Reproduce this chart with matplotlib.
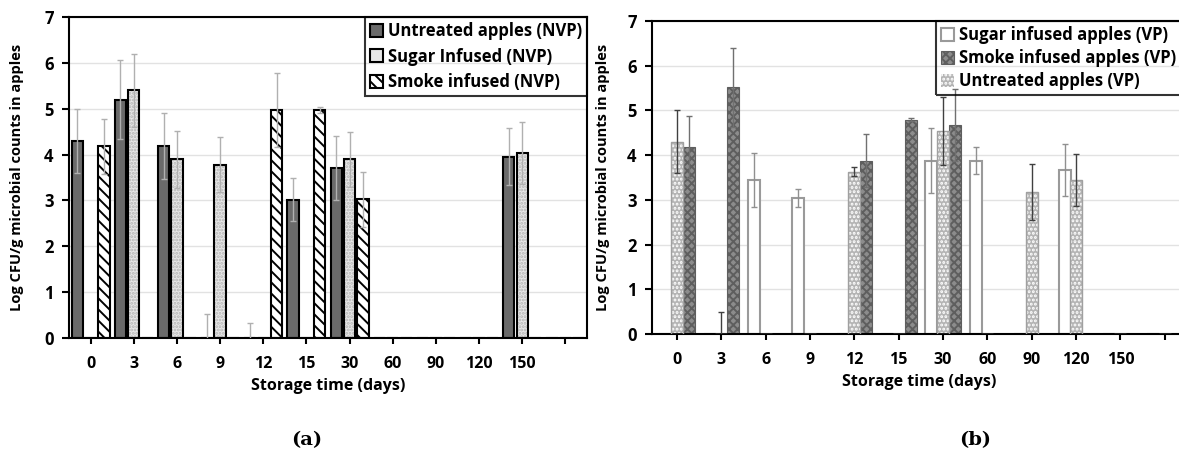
import numpy as np
import matplotlib
matplotlib.use("Agg")
import matplotlib.pyplot as plt

plt.rcParams['font.family'] = ['Open Sans', 'DejaVu Sans']
plt.rcParams['font.weight'] = 'bold'
plt.rcParams['hatch.linewidth'] = 1.4

days = ["0", "3", "6", "9", "12", "15", "30", "60", "90", "120", "150", ""]

# panel (a) - not vacuum packed
untreated_nvp = [4.3, 5.2, 4.18, 0, 0, 3.02, 3.7, 0, 0, 0, 3.95, 0]
untreated_nvp_err = [0.7, 0.87, 0.72, 0.52, 0.32, 0.47, 0.7, 0, 0, 0, 0.62, 0]
sugar_nvp = [0, 5.4, 3.9, 3.78, 0, 0, 3.9, 0, 0, 0, 4.04, 0]
sugar_nvp_err = [0, 0.8, 0.62, 0.6, 0, 0, 0.6, 0, 0, 0, 0.68, 0]
smoke_nvp = [4.18, 0, 0, 0, 4.97, 4.97, 3.03, 0, 0, 0, 0, 0]
smoke_nvp_err = [0.6, 0, 0, 0, 0.8, 0.07, 0.6, 0, 0, 0, 0, 0]

# panel (b) - vacuum packed
sugar_vp = [0, 0, 3.44, 3.05, 0, 0, 3.88, 3.88, 0, 3.66, 0, 0]
sugar_vp_err = [0, 0, 0.6, 0.2, 0, 0, 0.72, 0.3, 0, 0.58, 0, 0]
smoke_vp = [4.18, 5.52, 0, 0, 3.88, 4.79, 4.68, 0, 0, 0, 0, 0]
smoke_vp_err = [0.7, 0.88, 0, 0, 0.6, 0.03, 0.8, 0, 0, 0, 0, 0]
untreated_vp = [4.3, 0, 0, 0, 3.63, 0, 4.54, 0, 3.18, 3.44, 0, 0]
untreated_vp_err = [0.7, 0.5, 0, 0, 0.1, 0, 0.77, 0, 0.62, 0.58, 0, 0]

W, H = 1179, 454
fig = plt.figure(figsize=(W / 100, H / 100), dpi=100)


def px_axes(left, top, right, bottom):
    return fig.add_axes([left / W, 1 - bottom / H, (right - left) / W, (bottom - top) / H])


def err(ax, x, y, e, color):
    y = np.array(y)
    e = np.array(e)
    m = e > 0
    ax.errorbar(x[m], y[m], yerr=e[m], fmt='none', ecolor=color, elinewidth=1,
                capsize=2, capthick=1, zorder=4)


def style(ax, xmin):
    ax.set_xlim(xmin, 11.5)
    ax.set_ylim(0, 7)
    ax.set_xticks(np.arange(len(days)))
    ax.set_xticklabels(days)
    ax.set_yticks(range(8))
    ax.yaxis.grid(True, color='#e2e2e2', lw=1)
    ax.set_axisbelow(True)
    for s in ax.spines.values():
        s.set_linewidth(1.5)
    ax.tick_params(axis='x', length=4, width=1.5, pad=9, labelsize=11.5)
    ax.tick_params(axis='y', length=5, width=1.5, pad=6, labelsize=12)
    ax.set_xlabel("Storage time (days)", fontsize=11.5, fontweight='bold', labelpad=4)
    ax.set_ylabel("Log CFU/g microbial counts in apples", fontsize=10.5, fontweight='bold')


def legend(ax, handles, labels, anchor, spacing):
    leg = ax.legend(handles, labels, loc='upper right', bbox_to_anchor=anchor, borderaxespad=0,
                    fontsize=12, handlelength=0.8, handleheight=0.8, handletextpad=0.3,
                    labelspacing=spacing, fancybox=False, edgecolor='black', borderpad=0.3)
    leg.get_frame().set_facecolor('none')
    leg.get_frame().set_linewidth(1.5)
    return leg


x = np.arange(len(days))

# ---- (a)
ax1 = px_axes(69, 17, 587, 338)
bw = 0.26
b1 = ax1.bar(x - 0.31, untreated_nvp, bw, color='#6a6a6a', edgecolor='black', lw=1.5, zorder=2)
ax1.bar(x, sugar_nvp, bw, color='#e8e8e8', hatch='.....', edgecolor='#b5b5b5', lw=0, zorder=2)
ax1.bar(x, sugar_nvp, bw, fill=False, edgecolor='black', lw=1.5, zorder=3)
b3 = ax1.bar(x + 0.31, smoke_nvp, bw, color='white', hatch='\\\\\\', edgecolor='black', lw=1.5, zorder=2)
err(ax1, x - 0.31, untreated_nvp, untreated_nvp_err, '#b0b0b0')
err(ax1, x, sugar_nvp, sugar_nvp_err, '#b0b0b0')
err(ax1, x + 0.31, smoke_nvp, smoke_nvp_err, '#b0b0b0')
style(ax1, -0.5)
ax1.yaxis.set_label_coords(-0.087, 0.5)
h2 = plt.Rectangle((0, 0), 1, 1, facecolor='#e8e8e8', edgecolor='black', lw=1.5)
legend(ax1, [b1, h2, b3], ["Untreated apples (NVP)", "Sugar Infused (NVP)", "Smoke infused (NVP)"],
       (1, 1), 0.45)

# ---- (b)
ax2 = px_axes(652, 21, 1187, 334)
bw2 = 0.27
s1 = ax2.bar(x - 0.26, sugar_vp, bw2, color='white', edgecolor='#9a9a9a', lw=1.5, zorder=2)
s2 = ax2.bar(x + 0.27, smoke_vp, bw2, color='#8c8c8c', hatch='xxxx', edgecolor='#5e5e5e', lw=0.8, zorder=2)
ax2.bar(x, untreated_vp, bw2, color='#b4b4b4', hatch='....', edgecolor='white', lw=0, zorder=2)
ax2.bar(x, untreated_vp, bw2, fill=False, edgecolor='#a0a0a0', lw=1, zorder=3)
err(ax2, x - 0.26, sugar_vp, sugar_vp_err, '#909090')
err(ax2, x + 0.27, smoke_vp, smoke_vp_err, '#707070')
err(ax2, x, untreated_vp, untreated_vp_err, '#404040')
style(ax2, -0.56)
ax2.yaxis.set_label_coords(-0.078, 0.5)
h3 = plt.Rectangle((0, 0), 1, 1, facecolor='#b4b4b4', hatch='....', edgecolor='white', lw=0)
legend(ax2, [s1, s2, h3], ["Sugar infused apples (VP)", "Smoke infused apples (VP)", "Untreated apples (VP)"],
       ((1181 - 652) / 535, 1), 0.3)

fig.text(307 / W, 1 - 440 / H, "(a)", family='DejaVu Serif', fontsize=14, fontweight='bold', ha='center', va='center')
fig.text(975 / W, 1 - 440 / H, "(b)", family='DejaVu Serif', fontsize=14, fontweight='bold', ha='center', va='center')

fig.savefig("out.png", dpi=100)
